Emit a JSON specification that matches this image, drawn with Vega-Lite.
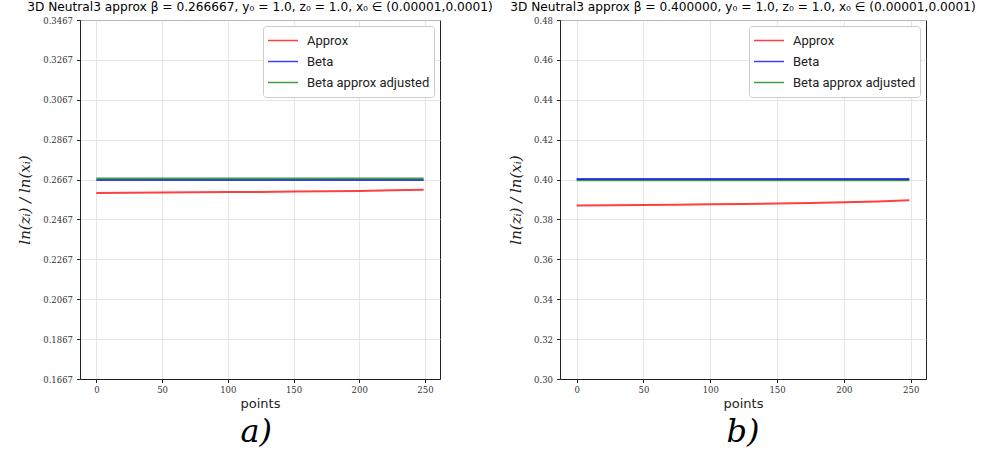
{
  "$schema": "https://vega.github.io/schema/vega-lite/v6.json",
  "padding": {"left": 17, "top": 0, "right": 5, "bottom": 0},
  "background": "white",
  "datasets": {
    "a": [
      {"series": "Approx", "points": 0, "value": 0.2600},
      {"series": "Approx", "points": 25, "value": 0.2601},
      {"series": "Approx", "points": 50, "value": 0.2602},
      {"series": "Approx", "points": 75, "value": 0.2603},
      {"series": "Approx", "points": 100, "value": 0.2604},
      {"series": "Approx", "points": 125, "value": 0.2605},
      {"series": "Approx", "points": 150, "value": 0.2607},
      {"series": "Approx", "points": 175, "value": 0.2608},
      {"series": "Approx", "points": 200, "value": 0.2610},
      {"series": "Approx", "points": 225, "value": 0.2613},
      {"series": "Approx", "points": 249, "value": 0.2616},
      {"series": "Beta", "points": 0, "value": 0.2665},
      {"series": "Beta", "points": 125, "value": 0.2665},
      {"series": "Beta", "points": 249, "value": 0.2665},
      {"series": "Beta approx adjusted", "points": 0, "value": 0.2672},
      {"series": "Beta approx adjusted", "points": 125, "value": 0.2672},
      {"series": "Beta approx adjusted", "points": 249, "value": 0.2672}
    ],
    "b": [
      {"series": "Approx", "points": 0, "value": 0.3870},
      {"series": "Approx", "points": 25, "value": 0.3871},
      {"series": "Approx", "points": 50, "value": 0.3873},
      {"series": "Approx", "points": 75, "value": 0.3874},
      {"series": "Approx", "points": 100, "value": 0.3876},
      {"series": "Approx", "points": 125, "value": 0.3878},
      {"series": "Approx", "points": 150, "value": 0.3880},
      {"series": "Approx", "points": 175, "value": 0.3882},
      {"series": "Approx", "points": 200, "value": 0.3886},
      {"series": "Approx", "points": 225, "value": 0.3890},
      {"series": "Approx", "points": 249, "value": 0.3896},
      {"series": "Beta approx adjusted", "points": 0, "value": 0.3997},
      {"series": "Beta approx adjusted", "points": 125, "value": 0.3997},
      {"series": "Beta approx adjusted", "points": 249, "value": 0.3997},
      {"series": "Beta", "points": 0, "value": 0.4003},
      {"series": "Beta", "points": 125, "value": 0.4003},
      {"series": "Beta", "points": 249, "value": 0.4003}
    ]
  },
  "spacing": 11,
  "hconcat": [
    {
      "title": {"text": "a)", "orient": "bottom", "anchor": "middle", "font": "DejaVu Serif", "fontStyle": "italic", "fontWeight": "normal", "fontSize": 32, "color": "black", "offset": 6},
      "resolve": {"scale": {"color": "independent"}, "legend": {"color": "independent"}},
      "vconcat": [
        {
          "title": {"text": "3D Neutral3 approx β = 0.266667, y₀ = 1.0,  z₀ = 1.0, x₀ ∈ (0.00001,0.0001)", "anchor": "middle", "font": "DejaVu Sans", "fontSize": 12.2, "fontWeight": "normal", "color": "black", "offset": 3},
          "width": 360,
          "height": 359,
          "data": {"name": "a"},
          "mark": {"type": "line", "strokeWidth": 2, "strokeOpacity": 0.75},
          "encoding": {
            "x": {"field": "points", "type": "quantitative", "title": "points",
              "scale": {"domain": [-12.45, 261.45], "nice": false, "zero": false},
              "axis": {"values": [0, 50, 100, 150, 200, 250], "format": "d"}},
            "y": {"field": "value", "type": "quantitative", "title": "ln(zᵢ) / ln(xᵢ)",
              "scale": {"domain": [0.1667, 0.3467], "nice": false, "zero": false},
              "axis": {"values": [0.1667, 0.1867, 0.2067, 0.2267, 0.2467, 0.2667, 0.2867, 0.3067, 0.3267, 0.3467], "format": ".4f"}},
            "color": {"field": "series", "type": "nominal",
              "scale": {"domain": ["Approx", "Beta", "Beta approx adjusted"], "range": ["#ff0000", "#0000ff", "#008000"]},
              "legend": {"title": null}}
          }
        }
      ]
    },
    {
      "title": {"text": "b)", "orient": "bottom", "anchor": "middle", "font": "DejaVu Serif", "fontStyle": "italic", "fontWeight": "normal", "fontSize": 32, "color": "black", "offset": 6},
      "resolve": {"scale": {"color": "independent"}, "legend": {"color": "independent"}},
      "vconcat": [
        {
          "title": {"text": "3D Neutral3 approx β = 0.400000, y₀ = 1.0,  z₀ = 1.0, x₀ ∈ (0.00001,0.0001)", "anchor": "middle", "font": "DejaVu Sans", "fontSize": 12.2, "fontWeight": "normal", "color": "black", "offset": 3},
          "width": 366,
          "height": 359,
          "data": {"name": "b"},
          "mark": {"type": "line", "strokeWidth": 2, "strokeOpacity": 0.75},
          "encoding": {
            "x": {"field": "points", "type": "quantitative", "title": "points",
              "scale": {"domain": [-12.45, 261.45], "nice": false, "zero": false},
              "axis": {"values": [0, 50, 100, 150, 200, 250], "format": "d"}},
            "y": {"field": "value", "type": "quantitative", "title": "ln(zᵢ) / ln(xᵢ)",
              "scale": {"domain": [0.30, 0.48], "nice": false, "zero": false},
              "axis": {"values": [0.30, 0.32, 0.34, 0.36, 0.38, 0.40, 0.42, 0.44, 0.46, 0.48], "format": ".2f"}},
            "color": {"field": "series", "type": "nominal",
              "scale": {"domain": ["Approx", "Beta", "Beta approx adjusted"], "range": ["#ff0000", "#0000ff", "#008000"]},
              "legend": {"title": null}}
          }
        }
      ]
    }
  ],
  "resolve": {"scale": {"x": "independent", "y": "independent", "color": "independent"}, "legend": {"color": "independent"}},
  "config": {
    "view": {"stroke": "#222", "strokeWidth": 1},
    "axis": {
      "labelFont": "DejaVu Serif", "labelFontSize": 8.5, "labelColor": "#333",
      "tickColor": "#222", "tickSize": 3.5, "domainColor": "#222",
      "gridColor": "#dedede", "gridWidth": 0.8,
      "titleFontWeight": "normal", "titleColor": "#222"
    },
    "axisX": {"titleFont": "DejaVu Sans", "titleFontSize": 13, "titlePadding": 3, "labelPadding": 3},
    "axisY": {"titleFont": "DejaVu Serif", "titleFontStyle": "italic", "titleFontSize": 15, "titlePadding": 10, "labelPadding": 4},
    "legend": {
      "orient": "top-right", "offset": 6, "strokeColor": "#cccccc", "fillColor": "white",
      "padding": 4, "cornerRadius": 3, "labelFont": "Roboto", "labelFontSize": 13, "labelColor": "#222",
      "symbolType": "stroke", "symbolSize": 900, "symbolStrokeWidth": 1.5, "symbolOpacity": 0.75, "rowPadding": 0, "clipHeight": 21, "labelOffset": 8
    }
  }
}
